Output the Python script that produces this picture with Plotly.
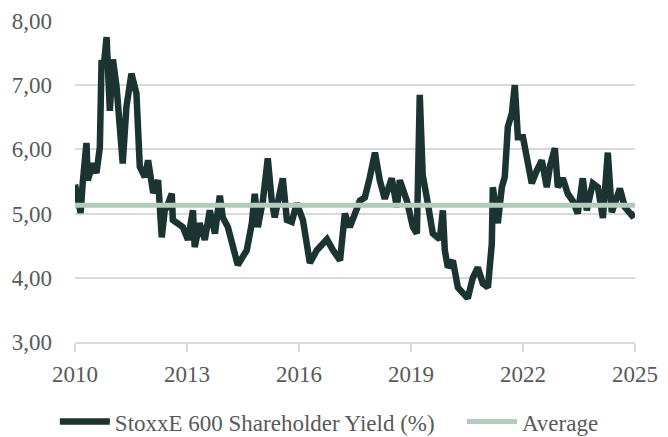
import plotly.graph_objects as go

# Data
dates = [
    "2010-01-01", "2010-01-20", "2010-02-25", "2010-03-17", "2010-04-23", "2010-05-06",
    "2010-06-24", "2010-07-30", "2010-09-01", "2010-09-18", "2010-10-10", "2010-11-06",
    "2010-12-08", "2011-01-07", "2011-02-12", "2011-04-13", "2011-05-19", "2011-07-07",
    "2011-08-25", "2011-09-27", "2011-11-15", "2011-12-17", "2012-02-05", "2012-03-24",
    "2012-04-29", "2012-05-28", "2012-06-17", "2012-08-05", "2012-08-15", "2012-11-21",
    "2013-01-10", "2013-02-28", "2013-03-17", "2013-05-05", "2013-06-24", "2013-08-12",
    "2013-10-01", "2013-11-18", "2013-12-17", "2014-02-05", "2014-03-24", "2014-05-12",
    "2014-08-09", "2014-09-27", "2014-10-26", "2014-11-25", "2015-01-13", "2015-03-02",
    "2015-04-10", "2015-05-09", "2015-07-27", "2015-09-05", "2015-10-23", "2015-12-11",
    "2016-02-09", "2016-04-17", "2016-06-24", "2016-10-01", "2016-11-29", "2017-02-06",
    "2017-03-25", "2017-05-13", "2017-08-19", "2017-10-07", "2017-11-25", "2018-01-14",
    "2018-03-02", "2018-04-20", "2018-06-27", "2018-08-16", "2018-09-14", "2018-11-22",
    "2019-01-20", "2019-02-28", "2019-03-28", "2019-04-26", "2019-06-05", "2019-08-03",
    "2019-10-10", "2019-11-09", "2019-11-28", "2019-12-28", "2020-02-15", "2020-04-04",
    "2020-07-10", "2020-08-28", "2020-10-16", "2020-12-04", "2021-01-23", "2021-03-02",
    "2021-03-12", "2021-04-30", "2021-06-08", "2021-07-07", "2021-08-06", "2021-09-14",
    "2021-10-13", "2021-11-12", "2022-01-01", "2022-02-18", "2022-03-28", "2022-05-16",
    "2022-07-04", "2022-08-22", "2022-09-21", "2022-11-09", "2022-12-08", "2023-01-26",
    "2023-03-15", "2023-05-03", "2023-06-21", "2023-08-09", "2023-09-17", "2023-11-15",
    "2024-01-04", "2024-02-22", "2024-04-10", "2024-05-19", "2024-08-06", "2024-09-24",
    "2024-12-02", "2025-01-01",
]
yield_pct = [
    5.45, 5.30, 5.01, 5.47, 6.10, 5.52,
    5.78, 5.63, 6.03, 7.39, 7.30, 7.75,
    6.60, 7.40, 6.97, 5.78, 6.66, 7.18,
    6.87, 5.73, 5.57, 5.83, 5.32, 5.52,
    4.63, 5.05, 5.10, 5.31, 4.90, 4.79,
    4.59, 5.05, 4.48, 4.85, 4.59, 5.05,
    4.69, 5.28, 4.94, 4.79, 4.48, 4.20,
    4.43, 4.85, 5.31, 4.79, 5.20, 5.86,
    5.20, 4.94, 5.55, 4.90, 4.87, 5.16,
    4.90, 4.23, 4.43, 4.60, 4.43, 4.27,
    5.00, 4.79, 5.20, 5.25, 5.57, 5.95,
    5.52, 5.23, 5.55, 5.10, 5.52, 5.20,
    4.79, 4.69, 6.85, 5.60, 5.25, 4.69,
    4.60, 5.05, 4.43, 4.16, 4.27, 3.85,
    3.68, 4.00, 4.16, 3.91, 3.85, 4.53,
    5.41, 4.85, 5.41, 5.57, 6.35, 6.56,
    7.00, 6.19, 6.19, 5.83, 5.47, 5.67,
    5.83, 5.41, 5.73, 6.02, 5.41, 5.55,
    5.31, 5.20, 5.00, 5.55, 5.05, 5.47,
    5.41, 4.93, 5.95, 5.02, 5.39, 5.10,
    4.97, 5.00,
]
average_value = 5.13
average_dates = ["2010-01-01", "2025-01-01"]
x_tick_vals = ["2010-01-01", "2013-01-01", "2016-01-01", "2019-01-01", "2022-01-01", "2025-01-01"]
x_tick_text = ["2010", "2013", "2016", "2019", "2022", "2025"]
y_tick_vals = [3, 4, 5, 6, 7, 8]

series_name = "StoxxE 600 Shareholder Yield (%)"
avg_name = "Average"

TEXT = "#595959"
GRID = "#d9d9d9"
FONT = "Liberation Serif"

fig = go.Figure()
fig.add_trace(go.Scatter(
    x=dates, y=yield_pct, mode="lines", name=series_name,
    line=dict(color="#1c3431", width=6.5, shape="linear"),
    legend="legend",
))
fig.add_trace(go.Scatter(
    x=average_dates, y=[average_value] * len(average_dates), mode="lines", name=avg_name,
    line=dict(color="#b3cbbb", width=5),
    legend="legend2",
))

legend_common = dict(
    orientation="h", yanchor="middle", y=-0.248, xanchor="left",
    font=dict(size=23, color=TEXT, family=FONT),
    bgcolor="rgba(0,0,0,0)", itemwidth=50,
)

fig.update_layout(
    width=660, height=429,
    margin=dict(l=67, r=33, t=13, b=95, autoexpand=False),
    paper_bgcolor="white", plot_bgcolor="white",
    font=dict(family=FONT, color=TEXT, size=23),
    separators=",.",
    showlegend=True,
    legend=dict(x=-0.036, **legend_common),
    legend2=dict(x=0.691, **legend_common),
    xaxis=dict(
        type="date",
        range=["2010-01-01", "2025-01-01"],
        tickvals=x_tick_vals, ticktext=x_tick_text,
        showgrid=False, zeroline=False,
        showline=True, linecolor=GRID, linewidth=1.5,
        ticks="outside", ticklen=8, tickcolor=GRID, tickwidth=1.5,
        ticklabelstandoff=3,
        tickfont=dict(size=23, color=TEXT, family=FONT),
    ),
    yaxis=dict(
        range=[3, 8],
        tickvals=y_tick_vals, tickformat=".2f",
        showgrid=True, gridcolor=GRID, gridwidth=1.5,
        zeroline=False, showline=False, ticks="",
        ticklabelstandoff=22,
        tickfont=dict(size=23, color=TEXT, family=FONT),
    ),
)

fig.write_html("out.html")
